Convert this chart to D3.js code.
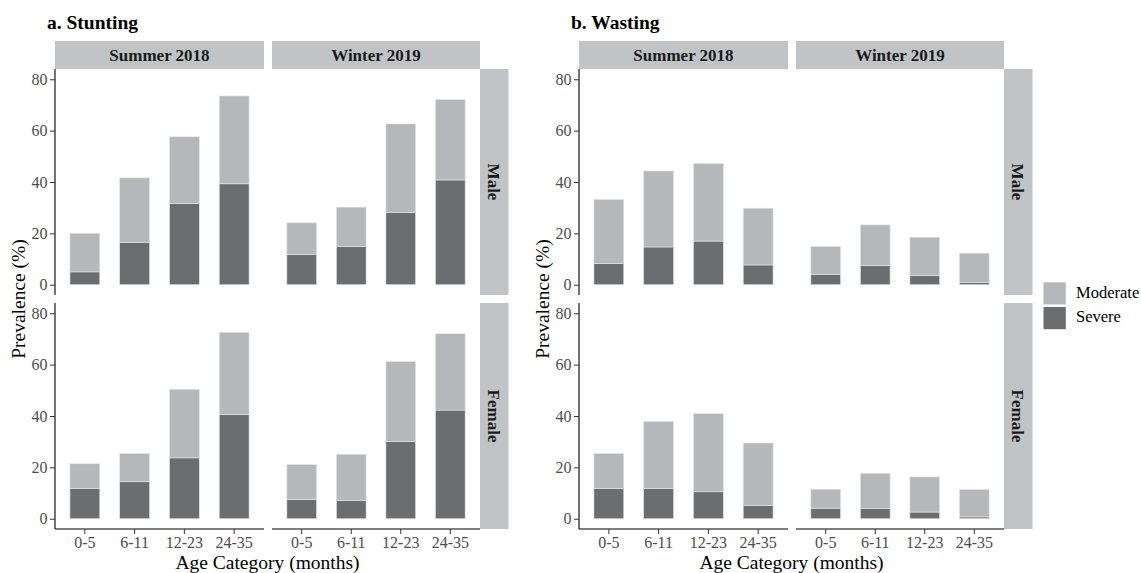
<!DOCTYPE html>
<html>
<head>
<meta charset="utf-8">
<script src="https://cdn.jsdelivr.net/npm/d3@7/dist/d3.min.js"></script>
<style>
  html, body { margin: 0; padding: 0; background: #fff; }
  svg { display: block; }
  text { font-family: "Liberation Serif", "Times New Roman", serif; }
</style>
</head>
<body>
<svg id="chart" width="1141" height="573"></svg>
<script>
// ---------- data ----------
const ageCategories = ["0-5", "6-11", "12-23", "24-35"];
const seasons = ["Summer 2018", "Winter 2019"];
const sexes = ["Male", "Female"];
const indicators = ["a. Stunting", "b. Wasting"];
const yTickValues = [0, 20, 40, 60, 80];
const severityLevels = ["Moderate", "Severe"];

// Stunting (%)
const stuntingSevereMaleSummer   = [5.0, 16.5, 31.7, 39.3];
const stuntingModerateMaleSummer = [15.0, 25.1, 25.9, 34.2];
const stuntingSevereMaleWinter   = [11.7, 14.9, 28.2, 40.8];
const stuntingModerateMaleWinter = [12.4, 15.3, 34.4, 31.3];
const stuntingSevereFemaleSummer   = [11.7, 14.4, 23.7, 40.5];
const stuntingModerateFemaleSummer = [9.7, 11.0, 26.7, 32.1];
const stuntingSevereFemaleWinter   = [7.5, 7.1, 30.0, 42.3];
const stuntingModerateFemaleWinter = [13.6, 18.0, 31.2, 29.7];

// Wasting (%)
const wastingSevereMaleSummer   = [8.3, 14.7, 17.0, 7.7];
const wastingModerateMaleSummer = [24.9, 29.6, 30.2, 22.1];
const wastingSevereMaleWinter   = [4.0, 7.5, 3.5, 0.9];
const wastingModerateMaleWinter = [10.9, 15.8, 15.0, 11.4];
const wastingSevereFemaleSummer   = [11.7, 11.7, 10.5, 5.1];
const wastingModerateFemaleSummer = [13.7, 26.2, 30.4, 24.4];
const wastingSevereFemaleWinter   = [4.1, 4.0, 2.6, 0.7];
const wastingModerateFemaleWinter = [7.4, 13.7, 13.7, 10.7];

// lookup table built from the arrays above
const panelData = {
  "a. Stunting": {
    "Male":   { "Summer 2018": [stuntingSevereMaleSummer, stuntingModerateMaleSummer],
                "Winter 2019": [stuntingSevereMaleWinter, stuntingModerateMaleWinter] },
    "Female": { "Summer 2018": [stuntingSevereFemaleSummer, stuntingModerateFemaleSummer],
                "Winter 2019": [stuntingSevereFemaleWinter, stuntingModerateFemaleWinter] }
  },
  "b. Wasting": {
    "Male":   { "Summer 2018": [wastingSevereMaleSummer, wastingModerateMaleSummer],
                "Winter 2019": [wastingSevereMaleWinter, wastingModerateMaleWinter] },
    "Female": { "Summer 2018": [wastingSevereFemaleSummer, wastingModerateFemaleSummer],
                "Winter 2019": [wastingSevereFemaleWinter, wastingModerateFemaleWinter] }
  }
};

// ---------- style / layout ----------
const colModerate = "#b5b8bb";
const colSevere = "#6a6e70";
const colStrip = "#c1c4c6";
const colTickText = "#4d4d4d";
const colTick = "#333333";

const svg = d3.select("#chart");

const chartOffsets = [0, 524];
const panelLefts = [55, 272];
const panelW = [209, 208];
const rowTops = [69, 303];
const panelH = 226;
const stripTop = 41;
const stripRightW = 28.5;

indicators.forEach((ind, ci) => {
  const ox = chartOffsets[ci];
  const g = svg.append("g").attr("transform", `translate(${ox},0)`);

  // title
  g.append("text")
    .attr("x", 47).attr("y", 28.5)
    .attr("font-size", "19.5px").attr("font-weight", "bold").attr("fill", "#000")
    .text(ind);

  // top strips
  seasons.forEach((s, si) => {
    g.append("rect")
      .attr("x", panelLefts[si]).attr("y", stripTop)
      .attr("width", panelW[si]).attr("height", rowTops[0] - stripTop)
      .attr("fill", colStrip);
    g.append("text")
      .attr("x", panelLefts[si] + panelW[si] / 2).attr("y", 61)
      .attr("text-anchor", "middle")
      .attr("font-size", "17px").attr("font-weight", "bold").attr("fill", "#1a1a1a")
      .text(s);
  });

  const rightEdge = panelLefts[1] + panelW[1];

  sexes.forEach((sex, ri) => {
    const top = rowTops[ri];
    const bottom = top + panelH;
    const y = d3.scaleLinear().domain([-4, 84]).range([bottom, top]);

    // right strip
    g.append("rect")
      .attr("x", rightEdge).attr("y", top)
      .attr("width", stripRightW).attr("height", panelH)
      .attr("fill", colStrip);
    g.append("text")
      .attr("transform", `translate(${rightEdge + stripRightW / 2},${top + panelH / 2}) rotate(90)`)
      .attr("text-anchor", "middle").attr("dy", "0.35em")
      .attr("font-size", "17px").attr("font-weight", "bold").attr("fill", "#1a1a1a")
      .text(sex);

    seasons.forEach((s, si) => {
      const left = panelLefts[si];
      const x = d3.scaleBand().domain(ageCategories)
        .range([left, left + panelW[si]])
        .paddingInner(0.4).paddingOuter(0.3);

      const [sev, mod] = panelData[ind][sex][s];
      const rows = ageCategories.map((a, i) => ({ age: a, Severe: sev[i], Moderate: mod[i] }));
      const stack = d3.stack().keys(["Severe", "Moderate"])(rows);

      const pg = g.append("g");
      stack.forEach(layer => {
        pg.selectAll(null).data(layer).enter().append("rect")
          .attr("x", d => x(d.data.age))
          .attr("width", x.bandwidth())
          .attr("y", d => y(d[1]))
          .attr("height", d => y(d[0]) - y(d[1]))
          .attr("fill", layer.key === "Severe" ? colSevere : colModerate)
          .attr("stroke", "#e4e4e4").attr("stroke-width", 0.6);
      });

      // y axis on left column
      if (si === 0) {
        const ya = g.append("g").attr("transform", `translate(${left},0)`)
          .call(d3.axisLeft(y).tickValues(yTickValues).tickSize(5).tickPadding(2.5));
        ya.select(".domain").attr("d", `M0,${top}V${bottom}`).attr("stroke", "#000").attr("stroke-width", 1.1);
        ya.selectAll(".tick line").attr("stroke", colTick).attr("stroke-width", 1);
        ya.selectAll(".tick text").attr("fill", colTickText)
          .attr("font-size", "16px").attr("font-family", "Liberation Serif, Times New Roman, serif");
      }
      // x axis on bottom row
      if (ri === 1) {
        const xa = g.append("g").attr("transform", `translate(0,${bottom})`)
          .call(d3.axisBottom(x).tickSize(5).tickPadding(3));
        xa.select(".domain").attr("d", `M${left},0H${left + panelW[si]}`).attr("stroke", "#000").attr("stroke-width", 1.1);
        xa.selectAll(".tick line").attr("stroke", colTick).attr("stroke-width", 1);
        xa.selectAll(".tick text").attr("fill", colTickText)
          .attr("font-size", "16px").attr("font-family", "Liberation Serif, Times New Roman, serif");
      }
    });
  });

  // axis titles
  g.append("text")
    .attr("x", (panelLefts[0] + rightEdge) / 2).attr("y", 569)
    .attr("text-anchor", "middle")
    .attr("font-size", "19.5px").attr("fill", "#000")
    .text("Age Category (months)");
  g.append("text")
    .attr("transform", `translate(24.5,${(rowTops[0] + rowTops[1] + panelH) / 2}) rotate(-90)`)
    .attr("text-anchor", "middle")
    .attr("font-size", "19.5px").attr("fill", "#000")
    .text("Prevalence (%)");
});

// legend
const legend = svg.append("g").attr("transform", "translate(1043.5,282.3)");
severityLevels.forEach((lvl, i) => {
  legend.append("rect")
    .attr("x", 0).attr("y", i * 24.7)
    .attr("width", 22.3).attr("height", 22.2)
    .attr("fill", lvl === "Severe" ? colSevere : colModerate);
  legend.append("text")
    .attr("x", 32.5).attr("y", i * 24.7 + 15.5)
    .attr("font-size", "16.5px").attr("fill", "#000")
    .text(lvl);
});
</script>
</body>
</html>
